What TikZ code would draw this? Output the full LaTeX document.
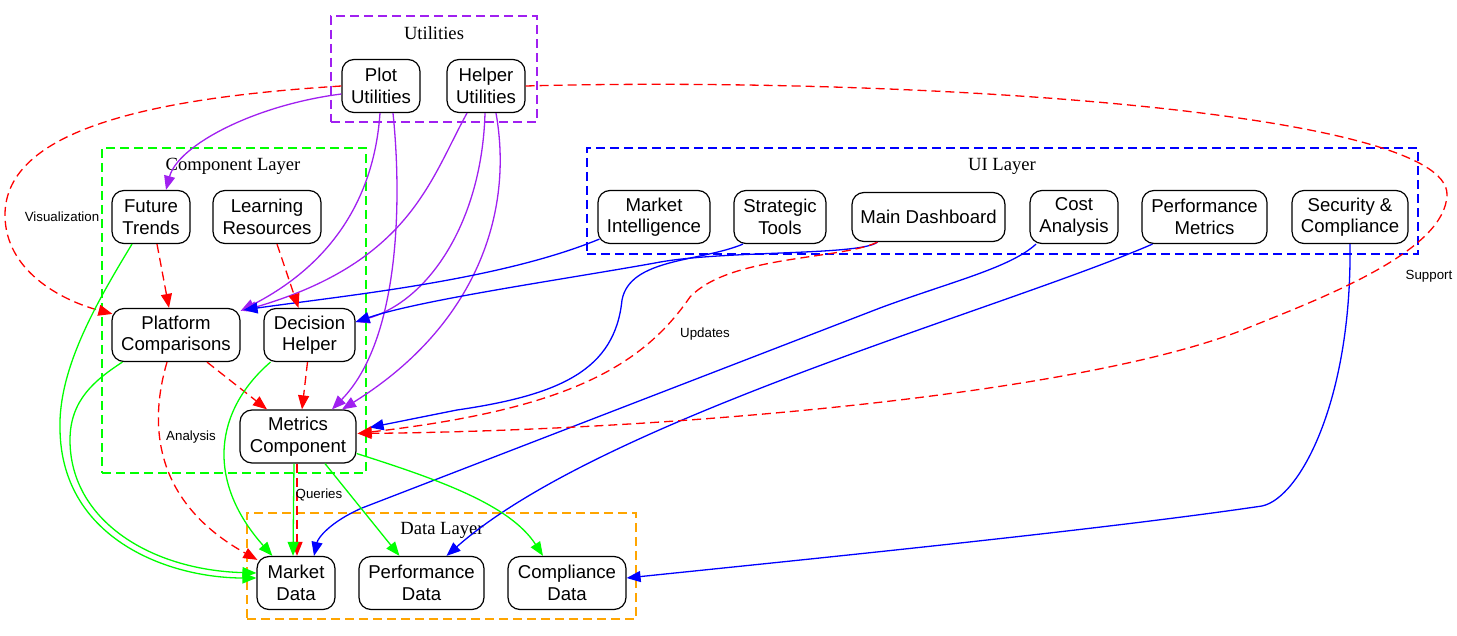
\documentclass[tikz,border=0pt]{standalone}
\usepackage{fontspec}
\setmainfont{Liberation Sans}
\newfontfamily\serifttl{Liberation Serif}
\usetikzlibrary{arrows.meta,calc}
\definecolor{gvpurple}{HTML}{A020F0}
\definecolor{gvgreen}{HTML}{00FF00}
\definecolor{gvorange}{HTML}{FFA500}
\definecolor{gvred}{HTML}{FF0000}
\definecolor{gvblue}{HTML}{0000FF}
\tikzset{
  box/.style={draw=black, line width=1.2pt, rounded corners=12pt, inner sep=0pt,
    minimum height=53pt, align=center, font=\fontsize{18.6}{21.5}\selectfont},
  clusterbox/.style={line width=1.2pt, dash pattern=on 9pt off 5pt, inner sep=0pt},
  cltitle/.style={font=\serifttl\fontsize{18.6}{21}\selectfont, inner sep=0pt},
  elabel/.style={font=\fontsize{13.3}{15}\selectfont, inner sep=0pt},
  edge/.style={line width=1.3pt, -{Triangle[length=14pt,width=11pt]}},
  pe/.style={edge, color=gvpurple},
  be/.style={edge, color=gvblue},
  ge/.style={edge, color=gvgreen},
  re/.style={edge, color=gvred, dash pattern=on 9pt off 5pt},
}
\begin{document}
\begin{tikzpicture}[x=1pt,y=-1pt]
\useasboundingbox (0,0) rectangle (1457,636);

% clusters
\node[clusterbox, draw=gvpurple, minimum width=206pt, minimum height=106pt] (utilcl) at (434,69) {};
\node[cltitle] (utilt) at (434,33) {Utilities};
\node[clusterbox, draw=gvgreen, minimum width=264pt, minimum height=325pt] (compcl) at (234,310.5) {};
\node[cltitle] (compt) at (233,166) {Component Layer};
\node[clusterbox, draw=gvblue, minimum width=831pt, minimum height=106pt] (uicl) at (1002.5,201) {};
\node[cltitle] (uit) at (1002,166) {UI Layer};
\node[clusterbox, draw=gvorange, minimum width=389pt, minimum height=106pt] (datacl) at (441.5,566) {};
\node[cltitle] (datat) at (442,530) {Data Layer};

% nodes
\node[box, minimum width=78pt] (plot) at (381,86) {Plot\\Utilities};
\node[box, minimum width=78pt] (helper) at (486,86) {Helper\\Utilities};
\node[box, minimum width=78pt] (ft) at (151,217) {Future\\Trends};
\node[box, minimum width=108pt] (lr) at (267,217) {Learning\\Resources};
\node[box, minimum width=128pt] (pc) at (176,335) {Platform\\Comparisons};
\node[box, minimum width=91pt] (dh) at (309.5,335) {Decision\\Helper};
\node[box, minimum width=116pt] (mc) at (298,436.5) {Metrics\\Component};
\node[box, minimum width=112pt] (mi) at (654,217) {Market\\Intelligence};
\node[box, minimum width=92pt] (st) at (780,217) {Strategic\\Tools};
\node[box, minimum width=153pt, minimum height=49pt] (md) at (928.5,217) {Main Dashboard};
\node[box, minimum width=88pt] (ca) at (1074,217) {Cost\\Analysis};
\node[box, minimum width=125pt] (pm) at (1204.5,217) {Performance\\Metrics};
\node[box, minimum width=116pt] (sc) at (1350,217) {Security \&\\Compliance};
\node[box, minimum width=78pt] (mkd) at (296,583) {Market\\Data};
\node[box, minimum width=125pt] (pd) at (421.5,583) {Performance\\Data};
\node[box, minimum width=118pt] (cd) at (567,583) {Compliance\\Data};

% purple edges
\draw[pe] ($(plot.west)+(0,8)$) .. controls (255,105) and (178,145) .. ($(ft.north)+(15,0)$);
\draw[pe] ($(plot.south)+(-1,0)$) .. controls (374,200) and (330,265) .. ($(pc.north east)+(0,3)$);
\draw[pe] ($(plot.south)+(12,0)$) .. controls (402,200) and (400,340) .. ($(mc.north)+(34,0)$);
\draw[pe] ($(helper.south)+(-19,0)$) .. controls (430,180) and (410,262) .. ($(pc.north east)+(2,3)$);
\draw[pe] ($(helper.south)+(-1,0)$) .. controls (482,220) and (430,300) .. ($(dh.east)+(0,-13)$);
\draw[pe] ($(helper.south)+(10,0)$) .. controls (515,220) and (470,330) .. ($(mc.north)+(44,0)$);

% blue edges
\draw[be] ($(mi.south west)+(2,-5)$) .. controls (500,280) and (350,295) .. ($(pc.north east)+(3,2)$);
\draw[be] ($(md.south)+(-51,0)$) .. controls (860,256) and (720,250) .. (655,263) .. controls (560,280) and (420,300) .. ($(dh.east)+(0,-13)$);
\draw[be] ($(st.south)+(-37,0)$) .. controls (700,262) and (630,258) .. (622,300) .. controls (615,370) and (560,395) .. (457,410) -- ($(mc.east)+(13,-9)$);
\draw[be] ($(ca.south)+(-38,0)$) .. controls (1010,268) and (950,282) .. (880,308) -- (362,508) .. controls (330,522) and (318,538) .. ($(mkd.north)+(18,0)$);
\draw[be] ($(pm.south)+(-52,0)$) .. controls (1000,310) and (600,420) .. ($(pd.north)+(25,0)$);
\draw[be] (sc.south) .. controls (1352,400) and (1300,498) .. (1262,506) .. controls (1100,530) and (800,560) .. ($(cd.east)+(0,-5)$);

% red dashed edges
\draw[re] (plot.west) .. controls (150,98) and (5,130) .. (5,215) .. controls (5,270) and (60,300) .. ($(pc.north west)+(1,6)$);
\draw[re] (helper.east) .. controls (900,76) and (1450,110) .. (1447,195) .. controls (1445,250) and (1330,295) .. (1250,327) .. controls (1100,390) and (700,430) .. ($(mc.east)+(1,-3)$);
\draw[re] ($(md.south)+(-51,0)$) .. controls (840,260) and (730,255) .. (690,297) .. controls (640,370) and (560,410) .. ($(mc.east)+(1,-3)$);
\draw[re] ($(ft.south)+(6,0)$) -- ($(pc.north)+(-7,0)$);
\draw[re] ($(lr.south)+(10,0)$) -- ($(dh.north)+(-11,0)$);
\draw[re] ($(pc.south)+(31,0)$) -- ($(mc.north)+(-31,0)$);
\draw[re] ($(dh.south)+(-2,0)$) -- ($(mc.north)+(4,0)$);
\draw[re] ($(pc.south)+(-9,0)$) .. controls (150,420) and (150,500) .. ($(mkd.north west)+(1,4)$);
\draw[re] ($(mc.south)+(-1,0)$) -- ($(mkd.north)+(1,0)$);

% green edges
\draw[ge] ($(ft.south)+(-19,0)$) .. controls (95,305) and (58,370) .. (60,430) .. controls (62,540) and (170,578) .. ($(mkd.west)+(0,-5)$);
\draw[ge] ($(pc.south west)+(11,0)$) .. controls (95,380) and (70,400) .. (70,440) .. controls (70,520) and (150,570) .. ($(mkd.west)+(0,-10)$);
\draw[ge] ($(dh.south)+(-39,0)$) .. controls (215,410) and (205,480) .. ($(mkd.north west)+(16,0)$);
\draw[ge] ($(mc.south)+(-4,0)$) -- ($(mkd.north)+(-3,0)$);
\draw[ge] ($(mc.south)+(27,0)$) -- ($(pd.north)+(-22,0)$);
\draw[ge] ($(mc.east)+(0,17)$) .. controls (440,480) and (510,505) .. ($(cd.north)+(-24,0)$);

% edge labels
\node[elabel] (lvis) at (62,217) {Visualization};
\node[elabel] (lana) at (191,437) {Analysis};
\node[elabel] (lque) at (319,495) {Queries};
\node[elabel] (lupd) at (705,334) {Updates};
\node[elabel] (lsup) at (1429,276) {Support};
\end{tikzpicture}
\end{document}
